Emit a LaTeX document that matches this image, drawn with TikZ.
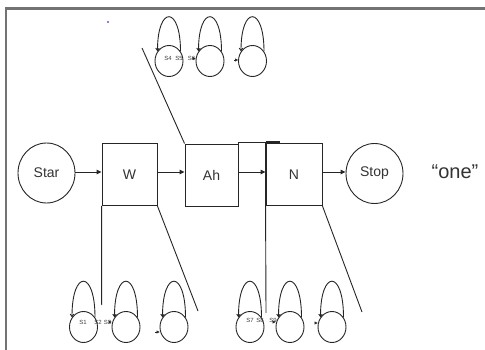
\documentclass[tikz,border=0pt]{standalone}
\usepackage{fontspec}
\setmainfont{Liberation Sans}
\usetikzlibrary{shapes.geometric,arrows.meta}
\tikzset{
  ln/.style={draw=black!85, line width=0.9pt},
  boxnode/.style={ln, rectangle, inner sep=0pt, font=\fontsize{14}{16}\selectfont, text=black!80},
  bigstate/.style={ln, ellipse, minimum width=57pt, minimum height=60pt, inner sep=0pt, font=\fontsize{14}{16}\selectfont, text=black!80},
  smallstate/.style={ln, ellipse, minimum width=28pt, minimum height=31pt, inner sep=0pt},
  slabel/.style={font=\fontsize{6}{7}\selectfont, text=black!75, inner sep=0pt},
  arr/.style={ln, -{Triangle[length=5pt,width=4.5pt]}},
  tinyarr/.style={ln, line width=0.6pt, -{Triangle[length=3pt,width=3pt]}},
  loopline/.style={ln, line width=0.9pt, -{Straight Barb[length=2.5pt,width=3.5pt]}},
  frameline/.style={draw=black!55, line width=2.4pt}
}
\begin{document}
\begin{tikzpicture}[x=1pt,y=-1pt]
\useasboundingbox (0,0) rectangle (485,350);
\fill[white] (0,0) rectangle (485,350);
% frame
\draw[frameline] (6.2,350) -- (6.2,8.6) -- (485,8.6);
\fill[blue] (108,22) circle (0.9pt);

% main row
\node[bigstate] (star) at (46.5,173) {Star};
\node[boxnode, minimum width=55pt, minimum height=62pt] (w) at (129.5,174.5) {W};
\node[boxnode, minimum width=53pt, minimum height=62pt] (ah) at (211.5,175) {Ah};
\node[boxnode, minimum width=56pt, minimum height=62pt] (n) at (294,174.5) {N};
\node[bigstate] (stop) at (374.5,173.5) {Stop};
\node[font=\fontsize{20}{22}\selectfont, text=black!80] (one) at (455,172) {“one”};

\draw[arr] (star.east |- 0,172) -- (w.west |- 0,172);
\draw[arr] (w.east |- 0,172) -- (ah.west |- 0,172);
\draw[arr] (ah.east |- 0,172) -- (n.west |- 0,172);
\draw[arr] (n.east |- 0,172) -- (stop.west |- 0,172);

% top bar joining Ah and N
\coordinate (barend) at (280,142.3);
\draw[ln] (ah.north east) -- (ah.north east |- barend) -- (barend);
\draw[ln, line width=1.6pt] (n.north west |- barend) -- (barend);

% top group
\node[smallstate] (t1) at (169,61) {};
\node[smallstate] (t2) at (210,61) {};
\node[smallstate] (t3) at (252.5,61) {};
\foreach \c in {t1,t2,t3}{
  \draw[loopline] (\c.40) .. controls +(0,-46) and +(0,-46) .. (\c.140);
}
\node[slabel] (s4) at (168,58.5) {S4};
\node[slabel] (s5) at (179,58.5) {S5};
\node[slabel] (s6) at (191.5,58.5) {S6};
\coordinate (t2in) at (194,58.5);
\coordinate (t3in) at (234,60);
\draw[tinyarr] (t2in) -- (t2.west |- t2in);
\draw[tinyarr] (t3in) -- (t3.west |- t3in);
\coordinate (tlend) at (142,48);
\draw[ln] (ah.north west) -- (tlend);

% bottom-left group
\node[smallstate] (b1) at (83.5,327) {};
\node[smallstate] (b2) at (126,327) {};
\node[smallstate] (b3) at (174,327) {};
\foreach \c in {b1,b2,b3}{
  \draw[loopline] (\c.40) .. controls +(0,-48) and +(0,-48) .. (\c.140);
}
\node[slabel] (s1) at (83,322) {S1};
\node[slabel] (s2) at (98,322) {S2};
\node[slabel] (s3) at (107.5,322) {S3};
\coordinate (b2in) at (109,322);
\coordinate (b3in) at (155,332);
\draw[tinyarr] (b2in) -- (b2.west |- b2in);
\draw[tinyarr] (b3in) -- (b3.west |- b3in);
\coordinate (wvl) at (101.7,305);
\coordinate (wdl) at (198,311);
\draw[ln] (w.south west) -- (wvl);
\draw[ln] (w.south east) -- (wdl);

% bottom-right group
\node[smallstate] (r1) at (250,327) {};
\node[smallstate] (r2) at (290,327) {};
\node[smallstate] (r3) at (332,327) {};
\foreach \c in {r1,r2,r3}{
  \draw[loopline] (\c.40) .. controls +(0,-48) and +(0,-48) .. (\c.140);
}
\node[slabel] (s7) at (250,320.5) {S7};
\node[slabel] (s8) at (260,320.5) {S8};
\node[slabel] (s9) at (273,320.5) {S9};
\coordinate (r2in) at (273,322);
\coordinate (r3in) at (315,323);
\draw[tinyarr] (r2in) -- (r2.west |- r2in);
\draw[tinyarr] (r3in) -- (r3.west |- r3in);
\coordinate (nvl) at (266,313);
\coordinate (ndl) at (362,312);
\draw[ln] (n.north west |- barend) -- (n.south west) -- (nvl);
\draw[ln] (n.south east) -- (ndl);
\end{tikzpicture}
\end{document}
